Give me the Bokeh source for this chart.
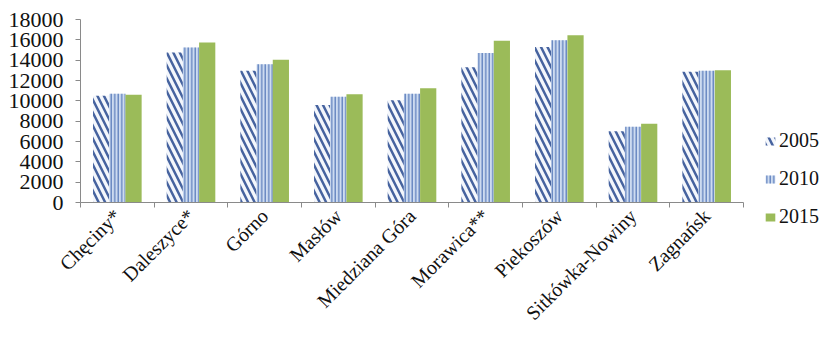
import math

from bokeh.embed import file_html
from bokeh.models import (ColumnDataSource, FixedTicker, Legend, LegendItem,
                          LinearAxis, Range1d)
from bokeh.plotting import figure
from bokeh.resources import INLINE
from bokeh.transform import dodge

# Gminy of the Kielce district
communes = ["Chęciny*", "Daleszyce*", "Górno", "Masłów", "Miedziana Góra",
            "Morawica**", "Piekoszów", "Sitkówka-Nowiny", "Zagnańsk"]

# Population by year
pop_2005 = [10500, 14750, 12950, 9600, 10050, 13300, 15300, 7000, 12850]
pop_2010 = [10700, 15250, 13600, 10400, 10700, 14700, 15950, 7450, 12950]
pop_2015 = [10600, 15750, 14050, 10650, 11250, 15900, 16450, 7750, 13000]

years = ["2005", "2010", "2015"]
y_ticks = list(range(0, 18001, 2000))
y_max = 18000

n = len(communes)
centers = [i + 0.5 for i in range(n)]   # slot centre of each commune
edges = list(range(n + 1))               # slot boundaries

source = ColumnDataSource(data=dict(pos=centers, commune=communes, y2005=pop_2005,
                                    y2010=pop_2010, y2015=pop_2015))

SERIF = "Liberation Serif"
GREY = "#8a8a8a"
TEXT = "#111111"

# page geometry (pixels): the plotting area covers the whole page and the axes
# are pinned to the value/slot origin inside it
W, H = 836, 345
AXIS_X_PX = 80        # x pixel of the value axis
TOP_PX = 19           # y pixel of the top value
BASELINE_PX = 202     # y pixel of the value 0
BARS_RIGHT_PX = 743   # x pixel where the last commune slot ends

slot_px = (BARS_RIGHT_PX - AXIS_X_PX) / n
x_start = -AXIS_X_PX / slot_px
x_end = (W - AXIS_X_PX) / slot_px
unit_px = (BASELINE_PX - TOP_PX) / y_max
y_start = -(H - BASELINE_PX) / unit_px
y_end = y_max + TOP_PX / unit_px

# bar styles per year
STYLE_2005 = dict(fill_color="#f4f7fc", line_color=None, hatch_pattern="\\",
                  hatch_color="#46639f", hatch_weight=2.5, hatch_scale=13)
STYLE_2010 = dict(fill_color="#cddbf0", line_color=None, hatch_pattern="|",
                  hatch_color="#5477b8", hatch_weight=1.2, hatch_scale=3.5)
STYLE_2015 = dict(fill_color="#9bbb59", line_color=None)

p = figure(width=W, height=H, x_range=Range1d(x_start, x_end),
           y_range=Range1d(y_start, y_end), x_axis_location=None,
           output_backend="svg", toolbar_location=None,
           min_border_left=0, min_border_right=0, min_border_top=0,
           min_border_bottom=0)
p.outline_line_color = None
p.xgrid.grid_line_color = None
p.ygrid.grid_line_color = None
p.background_fill_color = "white"
p.border_fill_color = "white"

# value axis, pinned at the first slot edge and drawn only over the value span
p.yaxis.fixed_location = 0
p.yaxis.bounds = (0, y_max)
p.yaxis.ticker = FixedTicker(ticks=y_ticks)
p.yaxis.axis_line_color = GREY
p.yaxis.major_tick_line_color = GREY
p.yaxis.major_tick_out = 5
p.yaxis.major_tick_in = 0
p.yaxis.minor_tick_line_color = None
p.yaxis.major_label_standoff = 12
p.yaxis.major_label_text_font = SERIF
p.yaxis.major_label_text_font_size = "22px"
p.yaxis.major_label_text_color = TEXT

# baseline with ticks between the communes
edge_axis = LinearAxis(fixed_location=0, bounds=(0, n),
                       ticker=FixedTicker(ticks=edges),
                       axis_line_color=GREY, major_tick_line_color=GREY,
                       major_tick_out=5, major_tick_in=0,
                       minor_tick_line_color=None,
                       major_label_text_font_size="0px",
                       major_label_standoff=0,
                       major_label_overrides={e: "" for e in edges})
p.add_layout(edge_axis, "below")

# commune names under each slot
name_axis = LinearAxis(fixed_location=0, bounds=(0, n),
                       ticker=FixedTicker(ticks=centers),
                       axis_line_color=None, major_tick_line_color=None,
                       major_tick_out=0, major_tick_in=0,
                       minor_tick_line_color=None,
                       major_label_overrides={c: name for c, name in zip(centers, communes)},
                       major_label_orientation=math.pi / 4,
                       major_label_text_font=SERIF,
                       major_label_text_font_size="20px",
                       major_label_text_color=TEXT,
                       major_label_standoff=10)
p.add_layout(name_axis, "below")

bw = 0.22
r05 = p.vbar(x=dodge("pos", -bw), top="y2005", width=bw, source=source, **STYLE_2005)
r10 = p.vbar(x=dodge("pos", 0), top="y2010", width=bw, source=source, **STYLE_2010)
r15 = p.vbar(x=dodge("pos", bw), top="y2015", width=bw, source=source, **STYLE_2015)

legend = Legend(items=[LegendItem(label=years[0], renderers=[r05]),
                       LegendItem(label=years[1], renderers=[r10]),
                       LegendItem(label=years[2], renderers=[r15])],
                location=(764, 117), padding=0, margin=0,
                border_line_color=None, background_fill_alpha=0,
                glyph_width=12, glyph_height=10, label_standoff=3,
                label_height=20, spacing=15,
                label_text_font=SERIF, label_text_font_size="20px",
                label_text_color=TEXT)
p.add_layout(legend, "center")

open("out.html", "w").write(file_html(p, INLINE))
